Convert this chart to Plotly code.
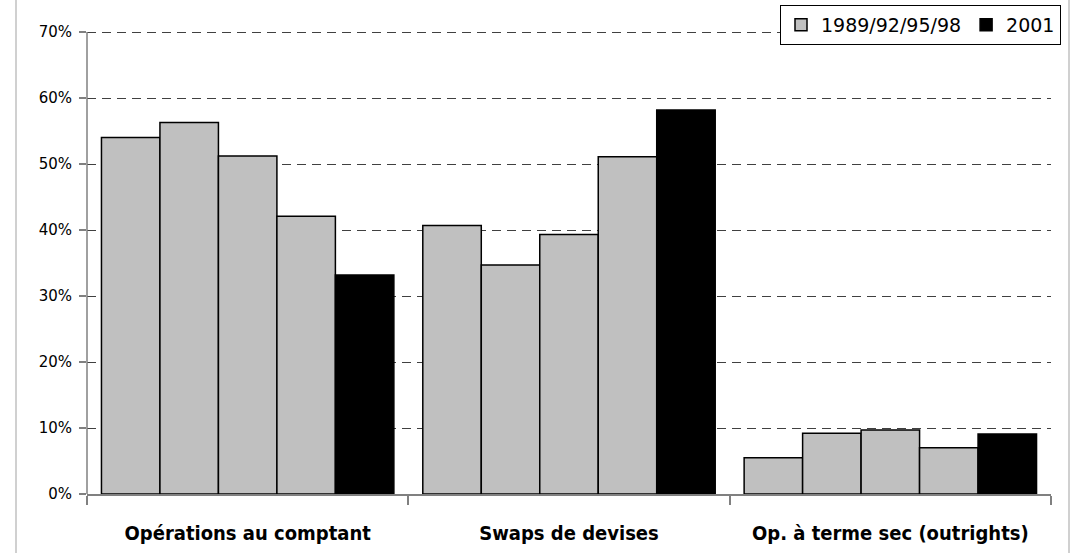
import plotly.graph_objects as go

categories = ["Opérations au comptant", "Swaps de devises", "Op. à terme sec (outrights)"]
years = ["1989", "1992", "1995", "1998", "2001"]
values = {
    "1989": [54.0, 40.7, 5.5],
    "1992": [56.3, 34.7, 9.2],
    "1995": [51.2, 39.3, 9.7],
    "1998": [42.1, 51.1, 7.0],
    "2001": [33.2, 58.2, 9.1],
}
legend_gray = "1989/92/95/98"
legend_black = "2001"
y_ticks = [0, 10, 20, 30, 40, 50, 60, 70]

# plot area: x 87..1051, y 5..494 px; 70% sits at y=32
PLOT_TOP, PLOT_BOTTOM, Y70 = 5, 494, 32
y_max = 70 * (PLOT_BOTTOM - PLOT_TOP) / (PLOT_BOTTOM - Y70)

fig = go.Figure()
for i, yr in enumerate(years):
    is_last = yr == "2001"
    fig.add_trace(go.Bar(
        x=categories,
        y=values[yr],
        name=legend_black if is_last else legend_gray,
        legendgroup="b" if is_last else "g",
        showlegend=(i == 0 or is_last),
        marker=dict(color="#000000" if is_last else "#c0c0c0",
                    line=dict(color="#000000", width=1.5)),
        hoverinfo="skip",
    ))

fig.update_layout(
    width=1077, height=553,
    margin=dict(l=87, r=26, t=PLOT_TOP, b=553 - PLOT_BOTTOM),
    paper_bgcolor="white", plot_bgcolor="white",
    barmode="group", bargap=0.09, bargroupgap=0,
    font=dict(family="DejaVu Sans", color="#000000", size=15),
    legend=dict(orientation="h", x=(1061 - 87) / 964, y=1.0, xanchor="right", yanchor="top",
                bordercolor="#000000", borderwidth=1, bgcolor="white",
                font=dict(family="DejaVu Sans", size=19),
                itemwidth=30, tracegroupgap=0, traceorder="normal"),
    showlegend=True,
)
fig.update_xaxes(
    type="category", range=[-0.5, 2.5],
    showline=True, linecolor="#808080", linewidth=1.5,
    ticks="outside", ticklen=9, tickcolor="#808080", tickwidth=1.5,
    tickson="boundaries", showgrid=False,
    tickfont=dict(family="DejaVu Sans Condensed", size=20, color="#000000", weight="bold"),
    ticklabelstandoff=20,
)
fig.update_yaxes(
    range=[0, y_max], tickvals=y_ticks, ticktext=[f"{v}%" for v in y_ticks],
    showline=False,
    ticks="outside", ticklen=7, tickcolor="#808080", tickwidth=1.5,
    showgrid=True, gridcolor="#404040", griddash="9px,6px", gridwidth=1,
    zeroline=False,
    tickfont=dict(family="DejaVu Sans", size=15, color="#000000"),
    ticklabelstandoff=4,
)
# y axis line only from 0% to 70%
fig.add_shape(type="line", xref="paper", yref="y", x0=0, x1=0, y0=0, y1=y_ticks[-1],
              line=dict(color="#808080", width=1.5), layer="above")
for xp in [(16 - 87) / 964, (1069 - 87) / 964]:
    fig.add_shape(type="line", xref="paper", yref="paper", x0=xp, x1=xp, y0=-0.2, y1=1.2,
                  line=dict(color="#c0c0c0", width=1.5), layer="below")

fig.write_html("out.html", config={"displayModeBar": False},
               post_script="document.body.style.margin='0';")
